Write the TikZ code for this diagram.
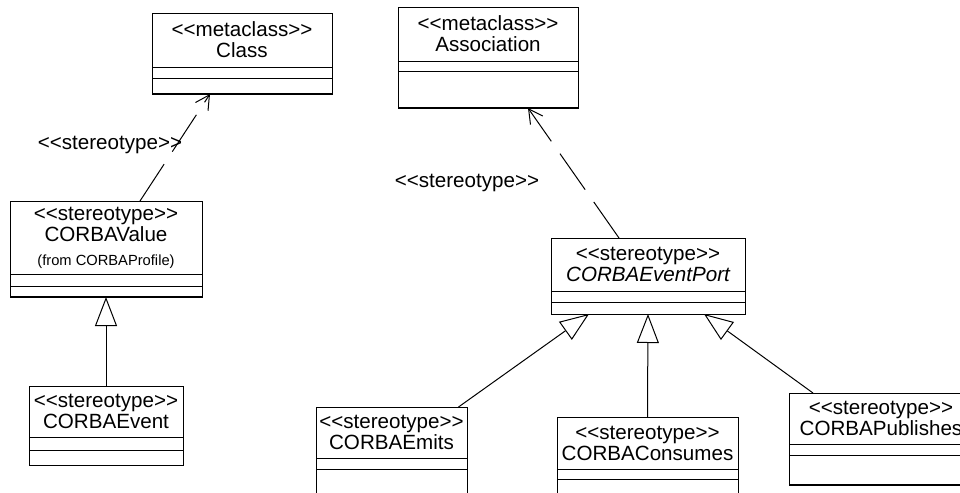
\documentclass[tikz,border=0pt]{standalone}
\usepackage{fontspec}
\newfontfamily\umlfont{Liberation Sans}[Ligatures=TeXOff]
\usetikzlibrary{arrows.meta, positioning}
\tikzstyle{classbox} = [rectangle, draw=black, line width=0.5pt, inner sep=0pt, outer sep=0pt, align=center, font=\umlfont\fontsize{10.3}{10.5}\selectfont]
\tikzstyle{namebox} = [classbox, anchor=north west]
\tikzstyle{stereolabel} = [inner sep=0pt, font=\umlfont\fontsize{10.3}{10.5}\selectfont]
\tikzstyle{shadowline} = [line width=1.3pt]
\tikzstyle{depend} = [line width=0.5pt, dash pattern=on 22pt off 7.5pt, -{Straight Barb[length=7pt,width=7.5pt]}]
\tikzstyle{inherit} = [line width=0.5pt, -{Triangle[open,length=14.5pt,width=11pt,fill=white]}]

\begin{document}
\begin{tikzpicture}[x=0.5pt, y=-0.5pt]
\clip (0,0) rectangle (960,493);

% Class
\node (class) [namebox, minimum width=90pt, minimum height=27pt] at (152,13) {<<metaclass>>\\Class};
\node (class-attr) [classbox, minimum width=90pt, minimum height=5.5pt, below=0pt of class] {};
\node (class-ops) [classbox, minimum width=90pt, minimum height=8pt, below=0pt of class-attr] {};
\draw [shadowline] (class-ops.south west) -- (class-ops.south east);

% Association
\node (assoc) [namebox, minimum width=90pt, minimum height=27pt] at (398,7) {<<metaclass>>\\Association};
\node (assoc-attr) [classbox, minimum width=90pt, minimum height=5pt, below=0pt of assoc] {};
\node (assoc-ops) [classbox, minimum width=90pt, minimum height=18.5pt, below=0pt of assoc-attr] {};
\draw [shadowline] (assoc-ops.south west) -- (assoc-ops.south east);

% CORBAValue
\node (value) [namebox, minimum width=96pt, minimum height=36.5pt] at (10,201) {<<stereotype>>\\CORBAValue\\[1.5pt]{\fontsize{7.35}{8}\selectfont (from CORBAProfile)}};
\node (value-attr) [classbox, minimum width=96pt, minimum height=6pt, below=0pt of value] {};
\node (value-ops) [classbox, minimum width=96pt, minimum height=5.5pt, below=0pt of value-attr] {};
\draw [shadowline] (value-ops.south west) -- (value-ops.south east);

% CORBAEvent
\node (event) [namebox, minimum width=77pt, minimum height=25.5pt] at (29,386) {<<stereotype>>\\CORBAEvent};
\node (event-attr) [classbox, minimum width=77pt, minimum height=6.5pt, below=0pt of event] {};
\node (event-ops) [classbox, minimum width=77pt, minimum height=7.5pt, below=0pt of event-attr] {};

% CORBAEventPort
\node (port) [namebox, minimum width=97pt, minimum height=26.5pt] at (551,238) {<<stereotype>>\\\itshape CORBAEventPort};
\node (port-attr) [classbox, minimum width=97pt, minimum height=5.5pt, below=0pt of port] {};
\node (port-ops) [classbox, minimum width=97pt, minimum height=6pt, below=0pt of port-attr] {};

% CORBAEmits
\node (emits) [namebox, minimum width=75.5pt, minimum height=25.5pt] at (316,407) {<<stereotype>>\\CORBAEmits};
\node (emits-attr) [classbox, minimum width=75.5pt, minimum height=5.5pt, below=0pt of emits] {};
\node (emits-ops) [classbox, minimum width=75.5pt, minimum height=20pt, below=0pt of emits-attr] {};

% CORBAConsumes
\node (consumes) [namebox, minimum width=90.5pt, minimum height=26pt] at (557,417) {<<stereotype>>\\CORBAConsumes};
\node (consumes-attr) [classbox, minimum width=90.5pt, minimum height=5pt, below=0pt of consumes] {};
\node (consumes-ops) [classbox, minimum width=90.5pt, minimum height=20pt, below=0pt of consumes-attr] {};

% CORBAPublishes
\node (publishes) [namebox, minimum width=92pt, minimum height=25.5pt] at (789,393) {<<stereotype>>\\CORBAPublishes};
\node (publishes-attr) [classbox, minimum width=92pt, minimum height=5.5pt, below=0pt of publishes] {};
\node (publishes-ops) [classbox, minimum width=92pt, minimum height=15pt, below=0pt of publishes-attr] {};
\draw [shadowline] (publishes-ops.south west) -- (publishes-ops.south east);

% stereotype labels
\node (value-lbl) [stereolabel] at (110,145) {<<stereotype>>};
\node (port-lbl) [stereolabel] at (467,183) {<<stereotype>>};

% dependencies
\draw [depend] ([xshift=17pt]value.north) -- ([xshift=-16pt]class-ops.south);
\draw [depend] ([xshift=-14.5pt]port.north) -- ([xshift=20pt]assoc-ops.south);

% generalizations
\draw [inherit] (event.north) -- (value-ops.south);
\draw [inherit] ([xshift=33.5pt]emits.north) -- ([xshift=-29.5pt]port-ops.south);
\draw [inherit] (consumes.north) -- (port-ops.south);
\draw [inherit] ([xshift=12pt]publishes.north west) -- ([xshift=28pt]port-ops.south);

\end{tikzpicture}
\end{document}
